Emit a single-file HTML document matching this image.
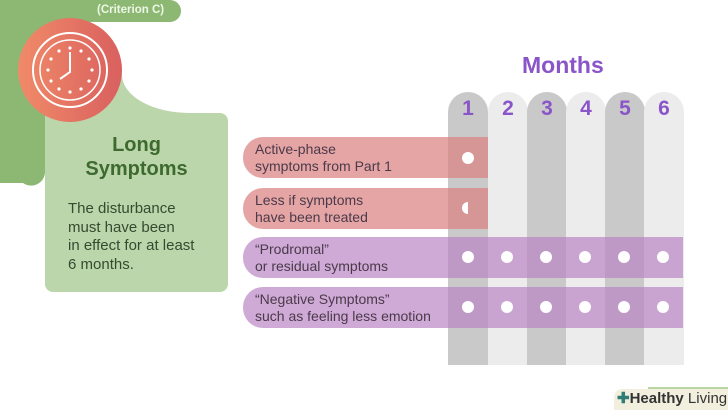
<!DOCTYPE html>
<html><head><style>
body{margin:0;width:728px;height:410px;overflow:hidden;background:#fff;font-family:"Liberation Sans",sans-serif;position:relative}
.a{position:absolute}
.col{position:absolute;top:92px;height:273px;width:40px;border-radius:20px 20px 0 0;text-align:center;font-weight:bold;font-size:21px;color:#8a55c9;padding-top:5px;box-sizing:border-box}
.d{background:#c9c9c9}.l{background:#ececec}
.row{position:absolute;left:243px;height:41px;border-radius:20px 0 0 20px;font-size:14px;color:#4a3a4a;padding:4px 0 0 12px;box-sizing:border-box;line-height:17px}
.p{background:rgba(220,130,130,0.72)}
.u{background:rgba(186,130,196,0.68);width:440px}
.dot{position:absolute;width:12px;height:12px;border-radius:50%;background:#fff}
</style></head><body>
<svg class="a" style="left:0;top:0" width="240" height="300">
<path d="M0 0 H170 A11 11 0 0 1 170 22 H60 V110 H23 V183 H0 Z" fill="#8db873"/>
<path d="M23 110 H45 V170 A14 14 0 0 1 23 183 Z" fill="#8db873"/>
<path d="M70 75 H122 A68 38 0 0 0 190 113 H220 A8 8 0 0 1 228 121 V284 A8 8 0 0 1 220 292 H53 A8 8 0 0 1 45 284 V113 H70 Z" fill="#bcd6ab"/>
<defs><linearGradient id="g" x1="0" x2="1"><stop offset="0" stop-color="#f08a68"/><stop offset="1" stop-color="#d9605f"/></linearGradient></defs>
<circle cx="70" cy="70" r="52" fill="url(#g)"/>
<circle cx="70" cy="70" r="37" fill="none" stroke="#fff" stroke-width="2"/>
<circle cx="70" cy="70" r="30" fill="none" stroke="#fff" stroke-width="1.5"/>
<g fill="#fff">
<circle cx="70" cy="48" r="1.6"/><circle cx="81" cy="51" r="1.6"/><circle cx="89" cy="59" r="1.6"/><circle cx="92" cy="70" r="1.6"/><circle cx="89" cy="81" r="1.6"/><circle cx="81" cy="89" r="1.6"/><circle cx="70" cy="92" r="1.6"/><circle cx="59" cy="89" r="1.6"/><circle cx="51" cy="81" r="1.6"/><circle cx="48" cy="70" r="1.6"/><circle cx="51" cy="59" r="1.6"/><circle cx="59" cy="51" r="1.6"/></g>
<path d="M70 52 V72 L60 79" stroke="#fff" stroke-width="2" fill="none"/>
</svg>
<div class="a" style="left:97px;top:4px;font-size:11.5px;font-weight:bold;color:#eef7e6">(Criterion C)</div>
<div class="a" style="left:45px;top:133px;width:183px;text-align:center;font-size:20px;font-weight:bold;color:#3e6a30;line-height:24px">Long<br>Symptoms</div>
<div class="a" style="left:68px;top:200px;font-size:15px;color:#354a30;line-height:18.5px">The disturbance<br>must have been<br>in effect for at least<br>6 months.</div>
<div class="a" style="left:522px;top:52px;font-size:23px;font-weight:bold;color:#8a55c9">Months</div>
<div class="col d" style="left:448px">1</div>
<div class="col l" style="left:488px">2</div>
<div class="col d" style="left:527px">3</div>
<div class="col l" style="left:566px">4</div>
<div class="col d" style="left:605px">5</div>
<div class="col l" style="left:644px">6</div>
<div class="row p" style="top:137px;width:245px">Active-phase<br>symptoms from Part 1</div>
<div class="row p" style="top:188px;width:245px">Less if symptoms<br>have been treated</div>
<div class="row u" style="top:237px">“Prodromal”<br>or residual symptoms</div>
<div class="row u" style="top:287px">“Negative Symptoms”<br>such as feeling less emotion</div>
<div class="dot" style="left:462px;top:152px"></div>
<div class="dot" style="left:462px;top:202px;clip-path:inset(0 6px 0 0)"></div>
<div class="dot" style="left:462px;top:251px"></div><div class="dot" style="left:501px;top:251px"></div><div class="dot" style="left:540px;top:251px"></div><div class="dot" style="left:579px;top:251px"></div><div class="dot" style="left:618px;top:251px"></div><div class="dot" style="left:657px;top:251px"></div>
<div class="dot" style="left:462px;top:301px"></div><div class="dot" style="left:501px;top:301px"></div><div class="dot" style="left:540px;top:301px"></div><div class="dot" style="left:579px;top:301px"></div><div class="dot" style="left:618px;top:301px"></div><div class="dot" style="left:657px;top:301px"></div>
<div class="a" style="left:648px;top:387px;width:80px;height:3px;background:#b9d5a6"></div>
<div class="a" style="left:614px;top:389px;width:114px;height:21px;background:#f3efdf;border-radius:8px 0 0 0"></div>
<div class="a" style="left:617px;top:389px;font-size:15px;color:#333"><span style="color:#2f7d74;font-weight:bold">✚</span><b>Healthy</b> Living</div>
</body></html>
